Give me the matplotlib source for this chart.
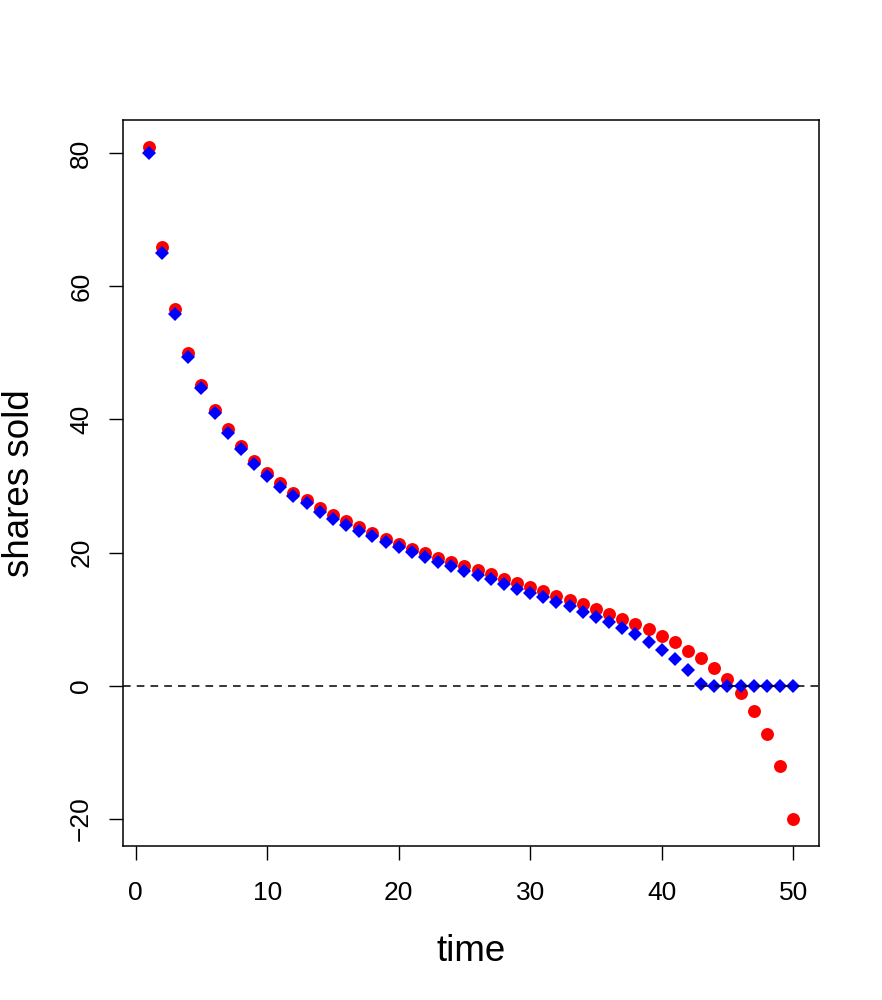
import numpy as np
import matplotlib
matplotlib.use('Agg')
from matplotlib import pyplot as plt

plt.rcParams['font.family'] = ['Liberation Sans', 'DejaVu Sans']

time = np.arange(1, 51)

# red circles
sold_red = [80.9, 65.9, 56.6, 50.0, 45.2, 41.4, 38.6, 36.0, 33.8, 32.0,
            30.5, 29.0, 27.9, 26.7, 25.7, 24.8, 23.9, 22.95, 22.1, 21.35,
            20.6, 20.0, 19.25, 18.65, 18.05, 17.45, 16.75, 16.1, 15.4, 14.8,
            14.3, 13.5, 12.9, 12.3, 11.6, 10.8, 10.05, 9.25, 8.55, 7.55,
            6.55, 5.3, 4.2, 2.7, 1.05, -1.1, -3.75, -7.25, -12.05, -20.0]

# blue diamonds
sold_blue = [80.0, 65.0, 55.8, 49.4, 44.7, 41.0, 38.0, 35.5, 33.3, 31.5,
             29.9, 28.5, 27.4, 26.1, 25.1, 24.2, 23.3, 22.45, 21.6, 20.8,
             20.15, 19.35, 18.65, 18.0, 17.3, 16.7, 16.0, 15.3, 14.6, 14.0,
             13.3, 12.65, 11.95, 11.15, 10.4, 9.6, 8.75, 7.8, 6.65, 5.45,
             4.05, 2.35, 0.25, 0.0, 0.0, 0.0, 0.0, 0.0, 0.0, 0.0]

fig = plt.figure(figsize=(8.82, 10), dpi=100)
ax = fig.add_axes([123/882, 154/1000, 696/882, 726/1000])

ax.plot(time, sold_red, 'o', color='red', markersize=9.3, markeredgewidth=0)
ax.plot(time, sold_blue, 'D', color='blue', markersize=7, markeredgewidth=0)
ax.axhline(0, color='black', linestyle=(0, (5, 4)), linewidth=1.1)

lo, hi = -20.0, 80.9
pad = (hi - lo) * 0.04
ax.set_ylim(lo - pad, hi + pad)
ax.set_xlim(1 - 49 * 0.04, 50 + 49 * 0.04)

ax.set_xticks([0, 10, 20, 30, 40, 50])
ax.set_yticks([-20, 0, 20, 40, 60, 80])
ax.tick_params(direction='out', length=10, width=1, labelsize=19)
ax.tick_params(axis='x', pad=15)
ax.tick_params(axis='y', pad=11.5)
plt.setp(ax.get_yticklabels(), rotation=90, va='center')

for s in ax.spines.values():
    s.set_linewidth(1.1)

ax.set_xlabel('time', fontsize=26.5, labelpad=21)
ax.set_ylabel('shares sold', fontsize=26.5, labelpad=23)

fig.savefig('out.png', dpi=100)
